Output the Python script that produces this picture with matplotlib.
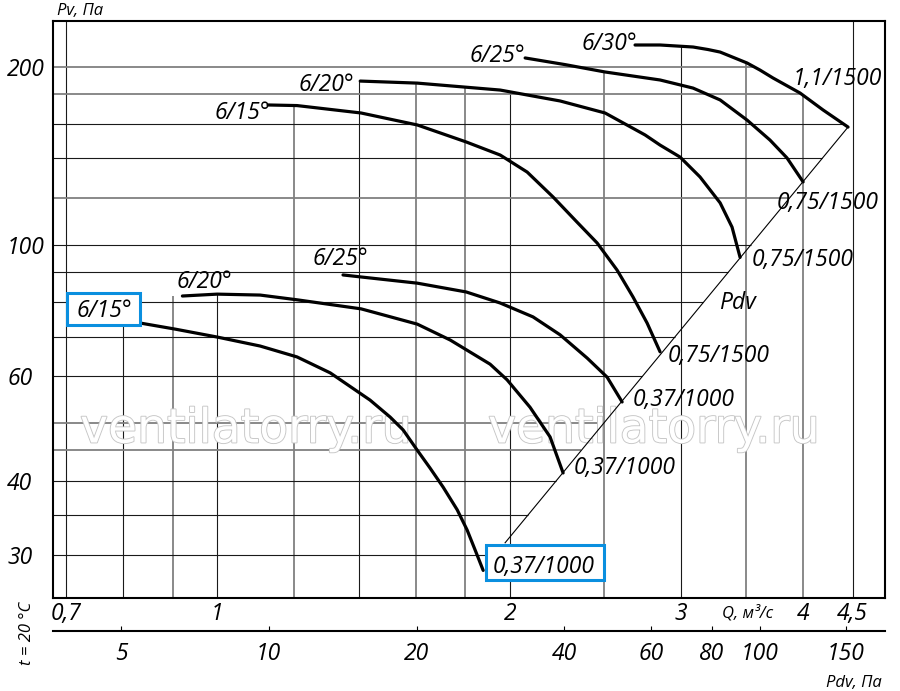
import numpy as np
import matplotlib
matplotlib.use("Agg")
import matplotlib.pyplot as plt
import matplotlib.patheffects as pe
from matplotlib.patches import Rectangle
from matplotlib.ticker import NullLocator

# ── Style ──────────────────────────────────────────────────────────────────────
plt.rcParams.update({
    "font.family": ["Open Sans", "DejaVu Sans"],
    "font.style": "italic",
    "font.size": 16.5,
})

W, H = 900, 691
CURVE_LW = 2.3
BOX_COLOR = "#0a8fdf"
GRID_DARK = "#1a1a1a"
GRID_GRAY = "#808080"

# ── Data ──────────────────────────────────────────────────────────────────────
q_grid = [0.7, 0.8, 0.9, 1.0, 1.2, 1.4, 1.6, 1.8, 2.0, 2.5, 3.0, 3.5, 4.0, 4.5]
pv_grid = [30, 35, 40, 45, 50, 60, 70, 80, 90, 100, 120, 140, 160, 180, 200]
q_ticks = [0.7, 1, 2, 3, 4, 4.5]
q_tick_labels = ["0,7", "1", "2", "3", "4", "4,5"]
pv_ticks = [30, 40, 60, 100, 200]
pv_tick_labels = ["30", "40", "60", "100", "200"]
pdv_ticks = [5, 10, 20, 40, 60, 80, 100, 150]
pdv_tick_labels = ["5", "10", "20", "40", "60", "80", "100", "150"]

# 0,37 kW / 1000 rpm
q_15_low = [0.834, 0.905, 1.0, 1.107, 1.208, 1.307, 1.436, 1.506, 1.553, 1.606,
            1.655, 1.707, 1.765, 1.807, 1.842, 1.877]
pv_15_low = [73.8, 72.1, 69.9, 67.5, 64.7, 60.8, 54.7, 51.2, 48.7, 45.0,
             42.0, 39.0, 35.7, 33.0, 30.5, 28.2]
q_20_low = [0.921, 1.0, 1.107, 1.208, 1.406, 1.606, 1.736, 1.908, 1.986, 2.097, 2.199, 2.268]
pv_20_low = [82.0, 82.6, 82.3, 80.8, 78.0, 73.5, 69.1, 62.9, 59.2, 53.2, 47.4, 41.2]
q_25_low = [1.347, 1.406, 1.606, 1.803, 1.954, 2.112, 2.252, 2.401, 2.517, 2.608]
pv_25_low = [89.0, 88.3, 86.2, 83.3, 79.8, 75.6, 70.5, 64.4, 59.8, 54.3]

# 0,75 kW / 1500 rpm
q_15_high = [1.128, 1.208, 1.406, 1.606, 1.803, 1.954, 2.083, 2.215, 2.344, 2.458,
             2.577, 2.676, 2.767, 2.853]
pv_15_high = [172.4, 172.0, 167.1, 159.5, 149.3, 141.9, 132.8, 120.5, 109.3, 100.8,
              90.7, 81.7, 73.8, 66.0]
q_20_high = [1.403, 1.606, 1.954, 2.252, 2.505, 2.754, 2.853, 2.991, 3.136, 3.289,
             3.383, 3.448]
pv_20_high = [189.2, 187.7, 182.7, 175.1, 167.1, 153.4, 147.5, 140.8, 130.3, 117.8,
              107.2, 95.3]
q_25_high = [2.073, 2.279, 2.505, 2.853, 3.085, 3.289, 3.505, 3.701, 3.853, 4.003]
pv_25_high = [207.0, 201.7, 196.0, 190.0, 184.1, 175.8, 162.6, 150.4, 140.3, 127.8]

# 1,1 kW / 1500 rpm
q_30 = [2.689, 2.853, 3.085, 3.196, 3.289, 3.505, 3.614, 3.727, 3.974, 4.196, 4.452]
pv_30 = [217.7, 217.7, 216.0, 213.9, 211.8, 203.0, 197.5, 191.5, 180.6, 169.1, 158.2]

# dynamic pressure line Pdv
pdv_line_q = [1.977, 4.452]
pdv_line_pv = [31.4, 158.2]

curves = [
    (q_15_low, pv_15_low), (q_20_low, pv_20_low), (q_25_low, pv_25_low),
    (q_15_high, pv_15_high), (q_20_high, pv_20_high), (q_25_high, pv_25_high),
    (q_30, pv_30),
]

GRAY_Q = {0.9, 1.2, 1.6, 1.8, 2.5, 3.5, 4.0}
GRAY_PV = {45, 50, 120, 180, 200}

# ── Figure setup ───────────────────────────────────────────────────────────────
fig = plt.figure(figsize=(W / 100, H / 100), dpi=100)
ax = fig.add_axes([53 / W, 1 - 598 / H, (885 - 53) / W, (598 - 21) / H])
ax.set_xscale("log")
ax.set_yscale("log")
ax.set_xlim(0.678, 4.859)
ax.set_ylim(25.33, 239.0)

for s in ax.spines.values():
    s.set_linewidth(1.5)


def fx(x):
    return x / W


def fy(y):
    return 1 - y / H


# ── Grid, clipped under the envelope of the curves and the Pdv line ────────────
lq = np.log10(pdv_line_q)
lp = np.log10(pdv_line_pv)
pdv_slope = (lp[1] - lp[0]) / (lq[1] - lq[0])


def pdv_q_at(pv):
    return 10 ** (lq[0] + (np.log10(pv) - lp[0]) / pdv_slope)


ymin, ymax = ax.get_ylim()
for q in q_grid:
    if q in (0.7, 4.5):
        top = ymax
    else:
        tops = [np.interp(q, cq, cp) for cq, cp in curves if cq[0] - 0.05 <= q <= cq[-1]]
        top = max(tops) if tops else pv_15_low[0]
    gray = q in GRAY_Q
    ax.vlines(q, ymin, top, color=GRID_GRAY if gray else GRID_DARK,
              lw=1.3 if gray else 0.8, zorder=1)

for v in pv_grid:
    if v <= pv_30[-1]:
        right = pdv_q_at(v)
    else:
        right = np.interp(v, pv_30[::-1], q_30[::-1])
    gray = v in GRAY_PV
    ax.hlines(v, ax.get_xlim()[0], right, color=GRID_GRAY if gray else GRID_DARK,
              lw=1.3 if gray else 0.8, zorder=1)

# ── Watermark ─────────────────────────────────────────────────────────────────
for cx in (246, 654):
    ax.text(fx(cx), fy(430), "ventilatorry.ru", transform=fig.transFigure,
            ha="center", va="center", fontsize=34, style="normal",
            family="DejaVu Sans", color="white", zorder=1.5,
            path_effects=[pe.Stroke(linewidth=1.3, foreground="#c6c6c6"), pe.Normal()])

# ── Curves ────────────────────────────────────────────────────────────────────
for cq, cp in curves:
    ax.plot(cq, cp, color="black", lw=CURVE_LW, solid_capstyle="round",
            solid_joinstyle="round", zorder=3)
ax.plot(pdv_line_q, pdv_line_pv, color="black", lw=0.8, zorder=3)

# ── Axes ticks ────────────────────────────────────────────────────────────────
ax.xaxis.set_minor_locator(NullLocator())
ax.yaxis.set_minor_locator(NullLocator())
ax.set_xticks(q_ticks, q_tick_labels)
ax.set_yticks(pv_ticks, pv_tick_labels)
ax.tick_params(axis="x", length=0, pad=3)
ax.tick_params(axis="y", length=0, pad=33)
for t in ax.get_yticklabels():
    t.set_horizontalalignment("left")


def q_to_pdv(q):
    q = np.clip(np.asarray(q, dtype=float), 1e-6, None)
    return 7.85 * np.power(q, 1.982)


def pdv_to_q(p):
    p = np.clip(np.asarray(p, dtype=float), 1e-6, None)
    return np.power(p / 7.85, 1 / 1.982)


sec = ax.secondary_xaxis((598 - 631) / (598 - 21), functions=(q_to_pdv, pdv_to_q))
sec.set_xticks(pdv_ticks, pdv_tick_labels)
sec.xaxis.set_minor_locator(NullLocator())
sec.tick_params(direction="in", length=3.6, width=0.8, pad=8)
sec.spines["bottom"].set_linewidth(1.5)

# ── Labels on the curves ──────────────────────────────────────────────────────
labels = [
    ("6/30°", 582, 50), ("6/25°", 470, 62), ("6/20°", 299, 91), ("6/15°", 215, 119),
    ("6/25°", 313, 265), ("6/20°", 177, 288), ("6/15°", 77, 317),
    ("1,1/1500", 793, 85), ("0,75/1500", 777, 209), ("0,75/1500", 752, 266),
    ("Pdv", 719, 309), ("0,75/1500", 668, 362),
    ("0,37/1000", 633, 406), ("0,37/1000", 574, 474), ("0,37/1000", 493, 573),
]
for txt, x, y in labels:
    ax.text(fx(x), fy(y), txt, transform=fig.transFigure, ha="left", va="baseline",
            zorder=6, clip_on=False)

for x0, y0, x1, y1 in [(67, 293, 140, 325), (486, 545, 604, 580)]:
    ax.add_patch(Rectangle((fx(x0), fy(y1)), fx(x1) - fx(x0), fy(y0) - fy(y1),
                           transform=fig.transFigure, fc="white", ec=BOX_COLOR,
                           lw=2.2, zorder=5, clip_on=False))

# ── Axis captions ─────────────────────────────────────────────────────────────
fig.text(fx(57), fy(15), "Pv, Па", fontsize=12, ha="left", va="baseline")
fig.text(fx(722), fy(618), "Q, м³/с", fontsize=12, ha="left", va="baseline")
fig.text(fx(826), fy(687), "Pdv, Па", fontsize=12, ha="left", va="baseline")
fig.text(fx(27), fy(633), "t = 20 °C", fontsize=12, rotation=90,
         ha="center", va="center")

fig.savefig("out.png", dpi=100)
